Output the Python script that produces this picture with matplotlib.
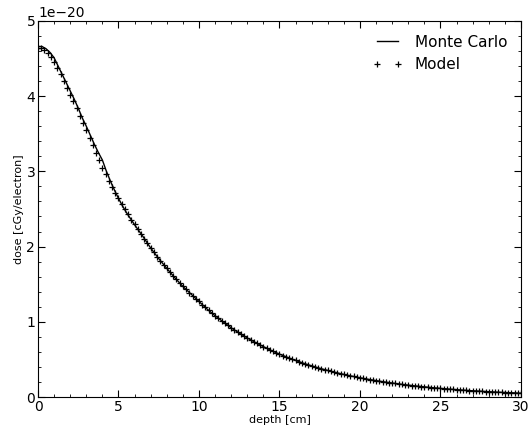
import numpy as np
import matplotlib
matplotlib.use("Agg")
import matplotlib.pyplot as plt
from matplotlib.ticker import AutoMinorLocator

# Monte Carlo (units of 1e-20 cGy/electron)
mc_depth = list(np.arange(0, 6.01, 0.25)) + list(np.arange(6.5, 30.01, 0.5))
mc_dose = [4.66, 4.66, 4.63, 4.58, 4.51, 4.40, 4.29, 4.18, 4.07, 3.96, 3.84, 3.71,
           3.60, 3.48, 3.36, 3.25, 3.15, 3.00, 2.87, 2.75, 2.64, 2.54, 2.45, 2.37, 2.29,
           2.14, 1.98, 1.84, 1.71, 1.585, 1.47, 1.37, 1.27, 1.17, 1.08, 1.00, 0.92,
           0.85, 0.785, 0.725, 0.67, 0.617, 0.57, 0.527, 0.486, 0.448, 0.414, 0.382,
           0.353, 0.326, 0.300, 0.277, 0.256, 0.236, 0.218, 0.201, 0.186, 0.171, 0.158,
           0.146, 0.135, 0.124, 0.115, 0.106, 0.098, 0.090, 0.083, 0.077, 0.071, 0.065,
           0.060, 0.056, 0.051]

# Model
model_depth = list(np.round(np.arange(0, 30.01, 0.2), 2))
model_dose = [4.64, 4.64, 4.62, 4.58, 4.52, 4.46, 4.38, 4.29, 4.20, 4.11, 4.02, 3.93,
              3.84, 3.74, 3.64, 3.55, 3.45, 3.35, 3.25, 3.15, 3.05, 2.96, 2.87, 2.79,
              2.71, 2.64, 2.57, 2.50, 2.43, 2.36, 2.300,
              2.233, 2.167, 2.104, 2.042, 1.982, 1.924, 1.868, 1.813, 1.760, 1.709,
              1.659, 1.610, 1.563, 1.517, 1.473, 1.430, 1.388, 1.347, 1.308, 1.270,
              1.230, 1.191, 1.154, 1.117, 1.082, 1.048, 1.015, 0.983, 0.952, 0.922,
              0.893, 0.865, 0.838, 0.811, 0.786, 0.761, 0.737, 0.714, 0.691, 0.669,
              0.648, 0.628, 0.608, 0.589, 0.570, 0.552, 0.535, 0.518, 0.502, 0.486,
              0.471, 0.456, 0.441, 0.428, 0.414, 0.401, 0.388, 0.376, 0.364, 0.353,
              0.342, 0.331, 0.320, 0.310, 0.300, 0.291, 0.282, 0.273, 0.264, 0.256,
              0.248, 0.240, 0.232, 0.225, 0.218, 0.211, 0.204, 0.198, 0.192, 0.186,
              0.180, 0.174, 0.169, 0.163, 0.158, 0.153, 0.148, 0.144, 0.139, 0.135,
              0.131, 0.126, 0.122, 0.119, 0.115, 0.111, 0.108, 0.104, 0.101, 0.098,
              0.095, 0.092, 0.089, 0.086, 0.083, 0.081, 0.078, 0.076, 0.073, 0.071,
              0.069, 0.067, 0.064, 0.062, 0.060, 0.059, 0.057, 0.055, 0.053, 0.052]

scale = 1e-20
mc_y = np.array(mc_dose) * scale
model_y = np.array(model_dose) * scale

fig = plt.figure(figsize=(5.30, 4.36), dpi=100)
ax = fig.add_axes([0.0717, 0.0894, 0.9113, 0.8626])

ax.plot(mc_depth, mc_y, color="black", lw=1.0, label="Monte Carlo")
ax.plot(model_depth, model_y, linestyle="none", marker="+", color="black",
        markersize=5, mew=0.9, label="Model")

ax.set_xlim(0, 30)
ax.set_ylim(0, 5e-20)
ax.set_xticks([0, 5, 10, 15, 20, 25, 30])
ax.set_yticks(np.array([0, 1, 2, 3, 4, 5]) * scale)
ax.xaxis.set_minor_locator(AutoMinorLocator(5))
ax.yaxis.set_minor_locator(AutoMinorLocator(5))
ax.tick_params(which="both", direction="in", top=True, right=True, labelsize=10, pad=2)
ax.tick_params(which="major", length=5)
ax.tick_params(which="minor", length=2.5)
ax.yaxis.get_offset_text().set_fontsize(10)

ax.set_xlabel("depth [cm]", fontsize=8, labelpad=1)
ax.set_ylabel("dose [cGy/electron]", fontsize=8, labelpad=2)

ax.legend(loc="upper right", frameon=False, fontsize=11, numpoints=2,
          handlelength=2.0)

fig.savefig("out.png", dpi=100)
